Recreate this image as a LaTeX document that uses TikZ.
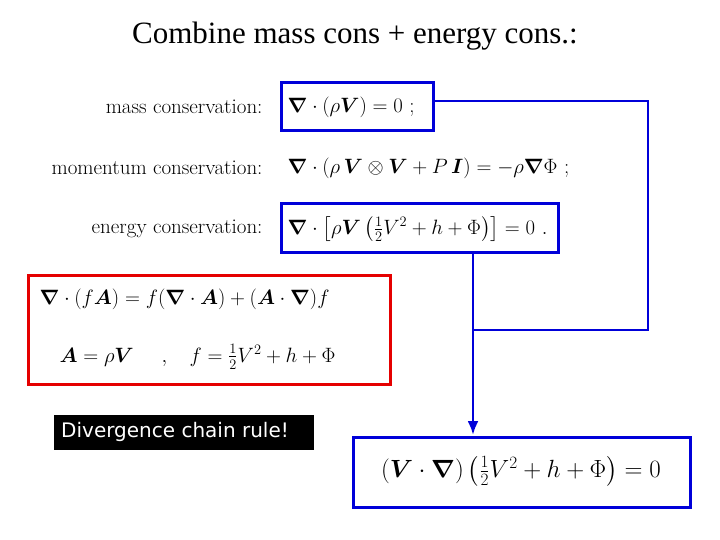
\documentclass[tikz,border=0pt]{standalone}
\usepackage{amsmath,bm}
\usepackage{fontspec}
\usetikzlibrary{arrows.meta}
\newfontfamily\tnr{Liberation Serif}
\newfontfamily\cs{DejaVu Sans}
\begin{document}
\begin{tikzpicture}[x=1pt,y=-1pt,
 bbox/.style={draw=blue!85!black,line width=3pt},
 lab/.style={anchor=east,font=\fontsize{21}{24}\selectfont},
 eq/.style={anchor=west,font=\fontsize{22}{26}\selectfont},
 req/.style={anchor=base west,font=\fontsize{22}{26}\selectfont},
 conn/.style={blue!85!black,line width=2.5pt}]
\useasboundingbox (0,0) rectangle (720,540);
\node[font=\tnr\fontsize{31}{36}\selectfont] (title) at (355,36) {Combine mass cons + energy cons.:};
\node[lab] (l1) at (266,107) {mass conservation:};
\node[lab] (l2) at (266,168) {momentum conservation:};
\node[lab] (l3) at (266,229) {energy conservation:};
\node[eq] (e1) at (284,107) {$\bm{\nabla}\cdot(\rho\bm{V})=0\ ;$};
\node[eq] (e2) at (284,168) {$\bm{\nabla}\cdot(\rho\,\bm{V}\otimes\bm{V}+P\,\bm{I})=-\rho\bm{\nabla}\Phi\ ;$};
\node[eq] (e3) at (284,229) {$\bm{\nabla}\cdot\left[\rho\bm{V}\left(\tfrac12V^2+h+\Phi\right)\right]=0\ .$};
\draw[bbox] (281,83) rectangle (433,131);
\draw[bbox] (281,204) rectangle (558,252);
\draw[red!90!black,line width=3pt] (28,275) rectangle (390,384);
\node[eq,font=\fontsize{22.5}{26}\selectfont] (r1) at (36,299) {$\bm{\nabla}\cdot(f\bm{A})=f(\bm{\nabla}\cdot\bm{A})+(\bm{A}\cdot\bm{\nabla})f$};
\node[req] (r2a) at (56,362) {$\bm{A}=\rho\bm{V}$};
\node[req] (r2b) at (158,362) {$,$};
\node[req] (r2c) at (186,362) {$f=\tfrac12V^2+h+\Phi$};
\node[fill=black,minimum width=260,minimum height=35,inner sep=0] (chain) at (184,432) {};
\node[anchor=west,text=white,font=\cs\fontsize{20}{24}\selectfont,inner sep=0] (chaint) at (61,432) {Divergence chain rule!};
\draw[bbox] (353,437) rectangle (690,507);
\node[font=\fontsize{27}{30}\selectfont] (res) at (521,471) {$(\bm{V}\cdot\bm{\nabla})\left(\tfrac12V^2+h+\Phi\right)=0$};
\coordinate (c1) at (433,101);
\coordinate (c2) at (648,101);
\coordinate (c3) at (648,330);
\coordinate (c4) at (473,330);
\coordinate (c5) at (473,252);
\coordinate (c6) at (473,435);
\draw[conn] (c1)--(c2)--(c3)--(c4);
\draw[conn] (c5)--(c4);
\draw[conn,-{Latex[length=14pt,width=11pt]}] (c4)--(c6);
\end{tikzpicture}
\end{document}
